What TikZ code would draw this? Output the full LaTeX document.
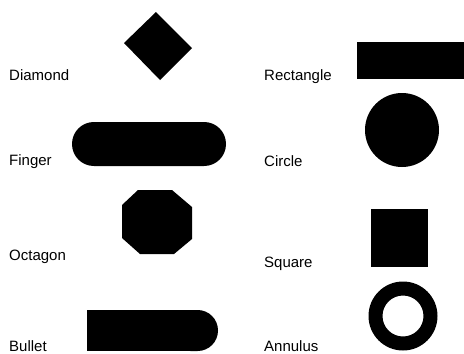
\documentclass[tikz,border=0pt]{standalone}
\usepackage{fontspec}
\setmainfont{Liberation Sans}
\usepackage{tikz}
\usetikzlibrary{calc}

\begin{document}
\begin{tikzpicture}[x=1pt,y=-1pt,font=\fontsize{15}{18}\selectfont]
\useasboundingbox (0,0) rectangle (464,354);
\foreach \x/\y/\lab in {9/80/Diamond,9/165/Finger,9/260/Octagon,9/351/Bullet,264/80/Rectangle,264/166/Circle,264/267/Square,264/351/Annulus}
  \node[anchor=base west,inner sep=0pt] (\lab) at (\x,\y) {\lab};
\fill (124,43) -- (156,12) -- (192,48) -- (160,80) -- cycle;
\fill[rounded corners=21.9pt] (72,122) rectangle (226,166);
\fill (138,190) -- (172,190) -- (192,207) -- (192,239) -- (174,254) -- (140,254) -- (122,238) -- (122,205) -- cycle;
\fill (87,310) rectangle (198,351);
\fill[rounded corners=20.4pt] (170,310) rectangle (218,351);
\fill (357,42) rectangle (464,79);
\fill (402,130) circle[radius=37pt];
\fill (371,209) rectangle (428,267);
\fill[even odd rule] (403,316) circle[radius=34.5pt] circle[radius=20.5pt];
\end{tikzpicture}
\end{document}
